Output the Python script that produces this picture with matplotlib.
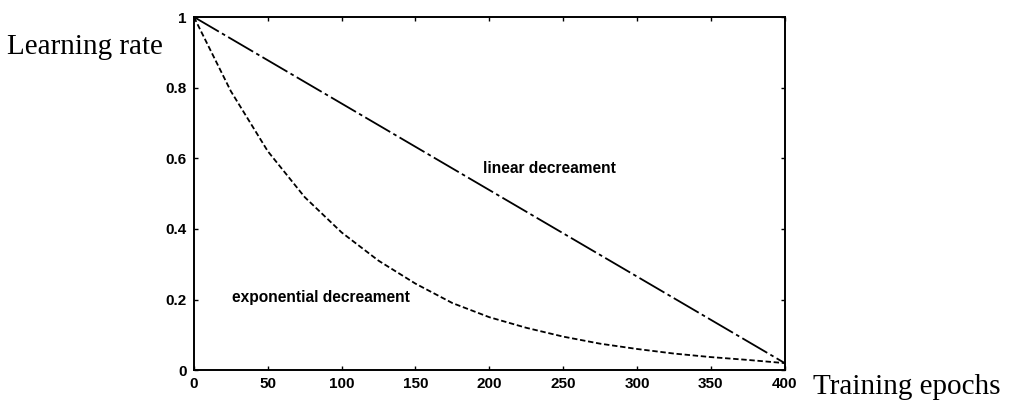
import matplotlib.pyplot as plt

# epochs and learning rates
epochs = [0, 25, 50, 75, 100, 125, 150, 175, 200, 225, 250, 275, 300, 325, 350, 375, 400]
exp_rate = [1.0, 0.79, 0.62, 0.49, 0.39, 0.31, 0.245, 0.19, 0.15, 0.12, 0.095,
            0.075, 0.06, 0.047, 0.037, 0.029, 0.02]
lin_epochs = [0, 400]
lin_rate = [1.0, 0.02]

x_ticks = [0, 50, 100, 150, 200, 250, 300, 350, 400]
y_ticks = [0, 0.2, 0.4, 0.6, 0.8, 1]
y_labels = ['0', '0.2', '0.4', '0.6', '0.8', '1']

fig = plt.figure(figsize=(10.1, 4.05), dpi=100)
ax = fig.add_axes([0.192, 0.086, 0.585, 0.872])

ax.plot(lin_epochs, lin_rate, color='black', lw=1.3, ls=(0, (16, 2, 2, 2)))
ax.plot(epochs, exp_rate, color='black', lw=1.3, ls=(0, (3, 1.5)))

ax.set_xlim(0, 400)
ax.set_ylim(0, 1)
ax.set_xticks(x_ticks)
ax.set_yticks(y_ticks)
ax.set_yticklabels(y_labels)
ax.tick_params(direction='in', length=3, width=1, top=True, right=True, pad=5)
for lab in ax.get_xticklabels() + ax.get_yticklabels():
    lab.set_family('Liberation Sans')
    lab.set_fontweight('bold')
    lab.set_fontsize(11)
for sp in ax.spines.values():
    sp.set_linewidth(1.4)

ax.text(196, 0.57, 'linear decreament', family='Liberation Sans', fontweight='bold',
        fontsize=11.2, va='center', ha='left')
ax.text(26, 0.205, 'exponential decreament', family='Liberation Sans', fontweight='bold',
        fontsize=11.2, va='center', ha='left')

fig.text(0.007, 0.885, 'Learning rate', family='Liberation Serif', fontsize=21,
         ha='left', va='center')
fig.text(0.805, 0.045, 'Training epochs', family='Liberation Serif', fontsize=21,
         ha='left', va='center')

fig.savefig('out.png', dpi=100)
